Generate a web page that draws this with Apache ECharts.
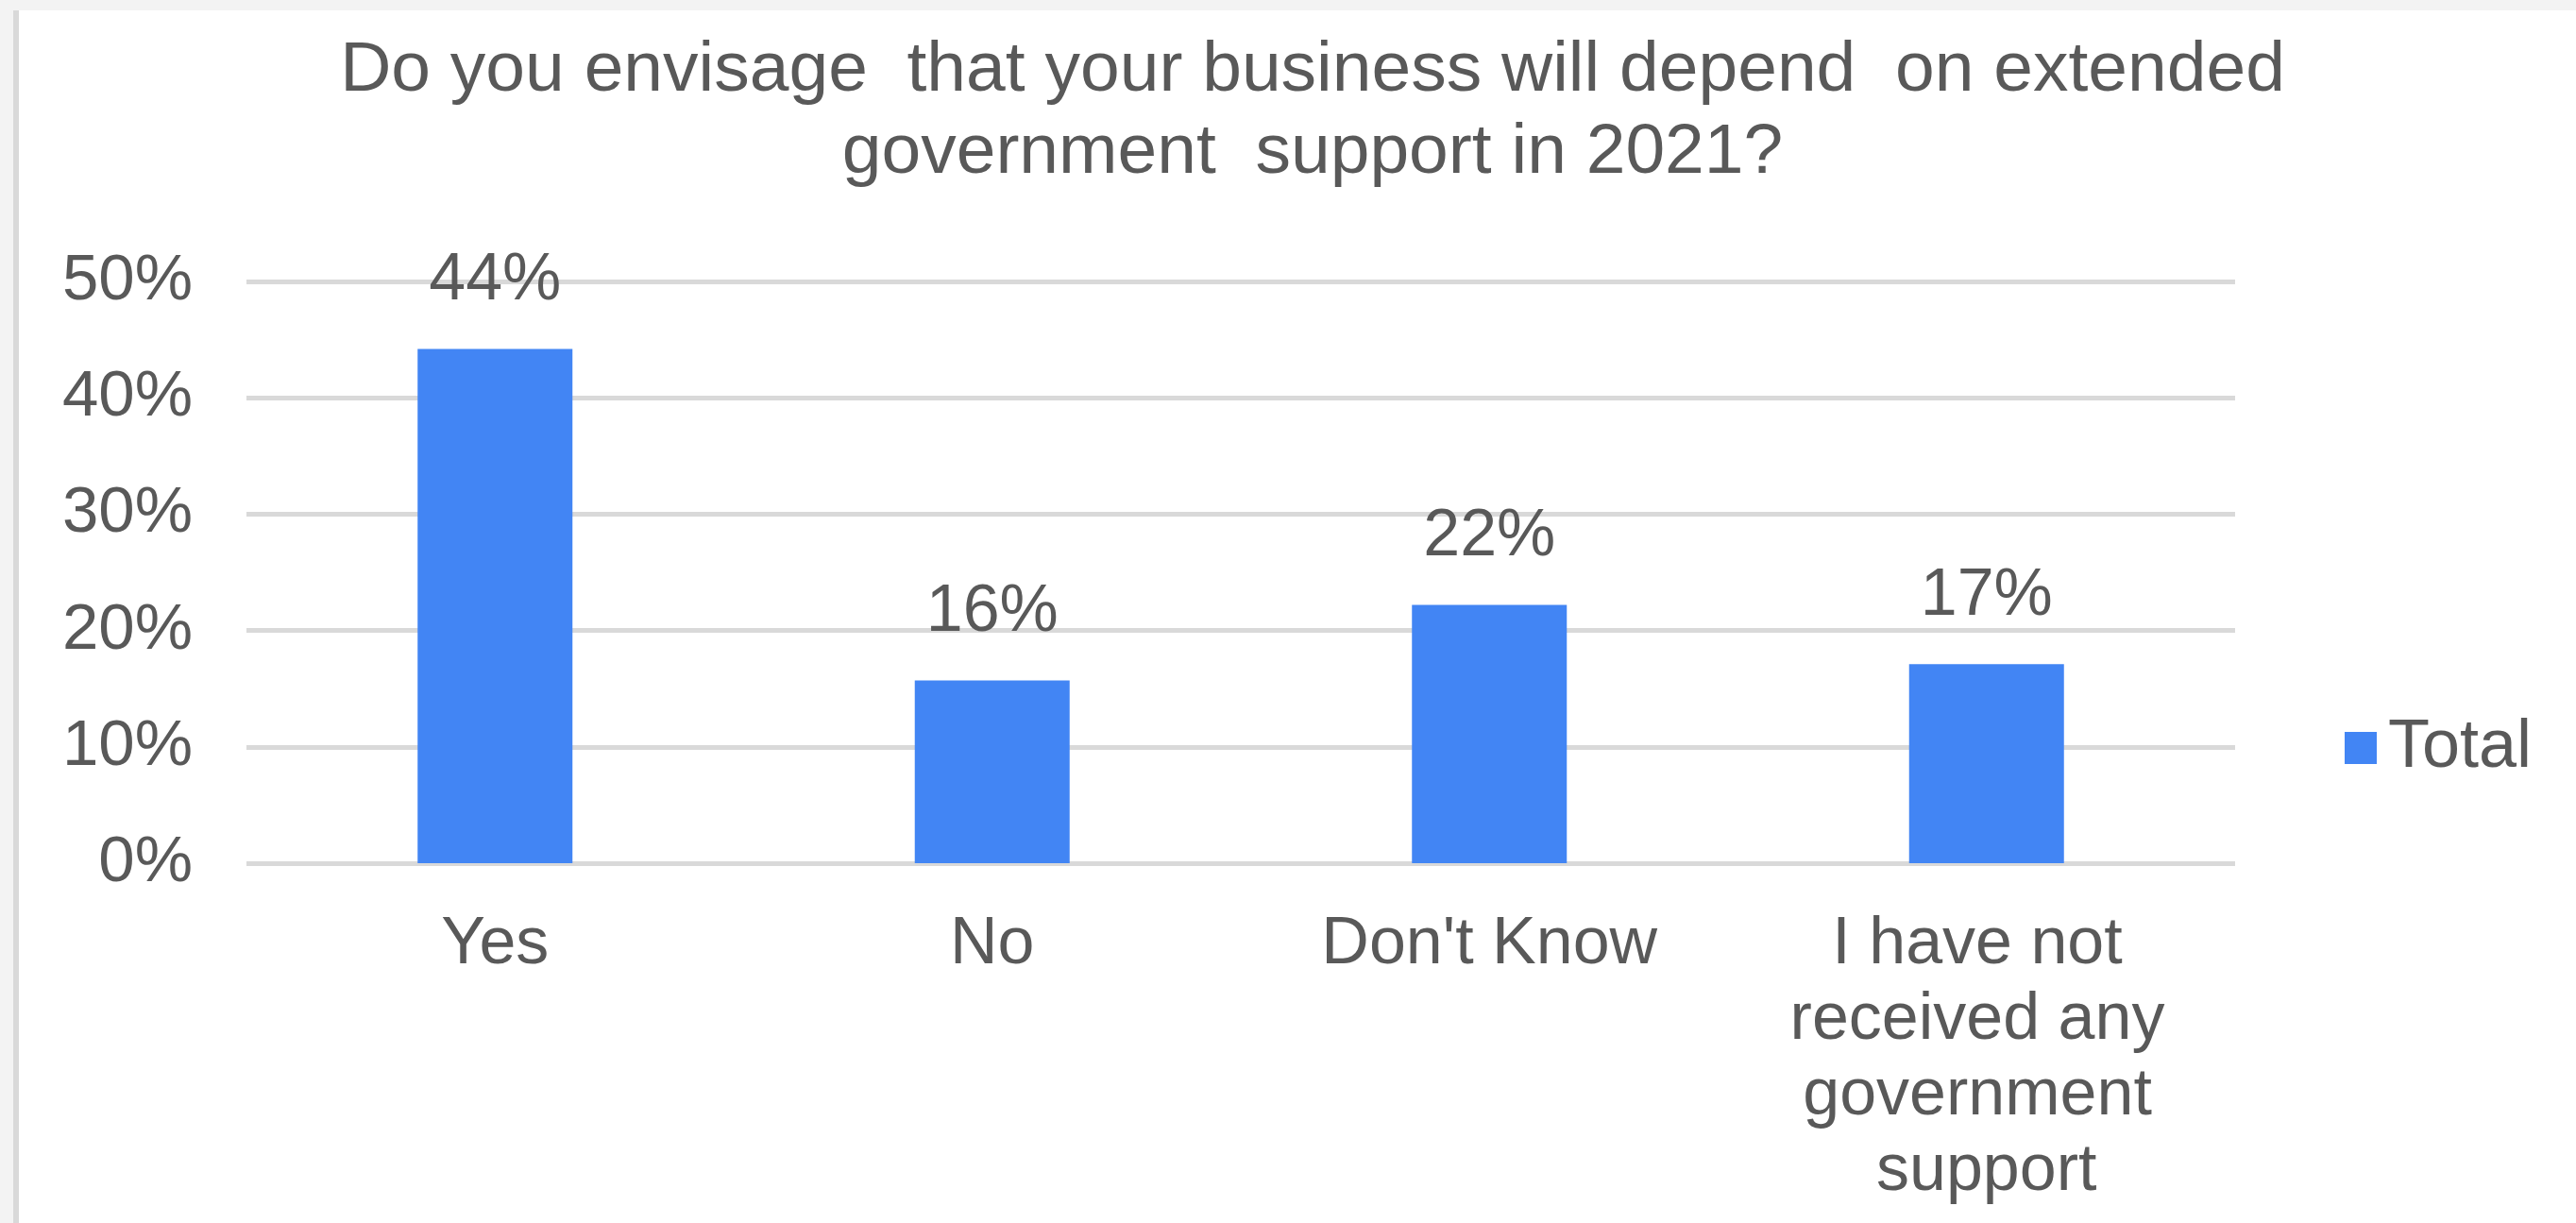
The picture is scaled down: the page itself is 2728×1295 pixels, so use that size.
<!DOCTYPE html>
<html>
<head>
<meta charset="utf-8">
<script src="https://cdn.jsdelivr.net/npm/echarts@6/dist/echarts.min.js"></script>
<style>
  html, body { margin: 0; padding: 0; background: #f3f3f3; width: 2728px; height: 1295px; overflow: hidden; }
  #edge { position: absolute; left: 14px; top: 11px; width: 6px; height: 1284px; background: #d9d9d9; }
  #chart { position: absolute; left: 20px; top: 11px; width: 2708px; height: 1284px; background: #ffffff; }
</style>
</head>
<body>
<div id="edge"></div>
<div id="chart"></div>
<script>
const titleText = 'Do you envisage  that your business will depend  on extended\ngovernment  support in 2021?';
const categories = ['Yes', 'No', "Don't Know", 'I have not received any government support'];
const seriesName = 'Total';
const values = [44.2, 15.7, 22.2, 17.1];
const yTicks = [0, 10, 20, 30, 40, 50];

const FONT = "'Liberation Sans', Arial, sans-serif";
const TXT = '#595959';

const chart = echarts.init(document.getElementById('chart'), null, { renderer: 'canvas' });
chart.setOption({
  animation: false,
  backgroundColor: '#ffffff',
  title: {
    text: titleText,
    left: 1370,
    top: 21,
    textAlign: 'center',
    padding: 0,
    textStyle: { fontFamily: FONT, fontSize: 75, fontWeight: 'normal', color: TXT, lineHeight: 87 }
  },
  legend: {
    data: [seriesName],
    left: 2463,
    top: 745,
    orient: 'vertical',
    icon: 'rect',
    itemWidth: 34,
    itemHeight: 34,
    padding: 0,
    textStyle: { fontFamily: FONT, fontSize: 72, color: TXT, padding: [0, 0, 0, 7] }
  },
  grid: { left: 241, right: 361, top: 287, bottom: 381, containLabel: false },
  xAxis: {
    type: 'category',
    data: categories,
    axisLine: { show: false },
    axisTick: { show: false },
    axisLabel: {
      fontFamily: FONT, fontSize: 70, color: TXT, lineHeight: 80, margin: 47,
      width: 420, overflow: 'break', interval: 0
    }
  },
  yAxis: {
    type: 'value',
    min: yTicks[0],
    max: yTicks[yTicks.length - 1],
    interval: yTicks[1] - yTicks[0],
    axisLine: { show: false },
    axisTick: { show: false },
    axisLabel: { fontFamily: FONT, fontSize: 69, color: TXT, margin: 57, formatter: '{value}%' },
    splitLine: { lineStyle: { color: '#d9d9d9', width: 5 } }
  },
  series: [{
    name: seriesName,
    type: 'bar',
    data: values,
    barWidth: 164,
    itemStyle: { color: '#4285f4' },
    label: {
      show: true,
      position: 'top',
      distance: 37,
      fontFamily: FONT, fontSize: 70, color: TXT,
      formatter: p => Math.round(p.value) + '%'
    }
  }]
});
</script>
</body>
</html>
